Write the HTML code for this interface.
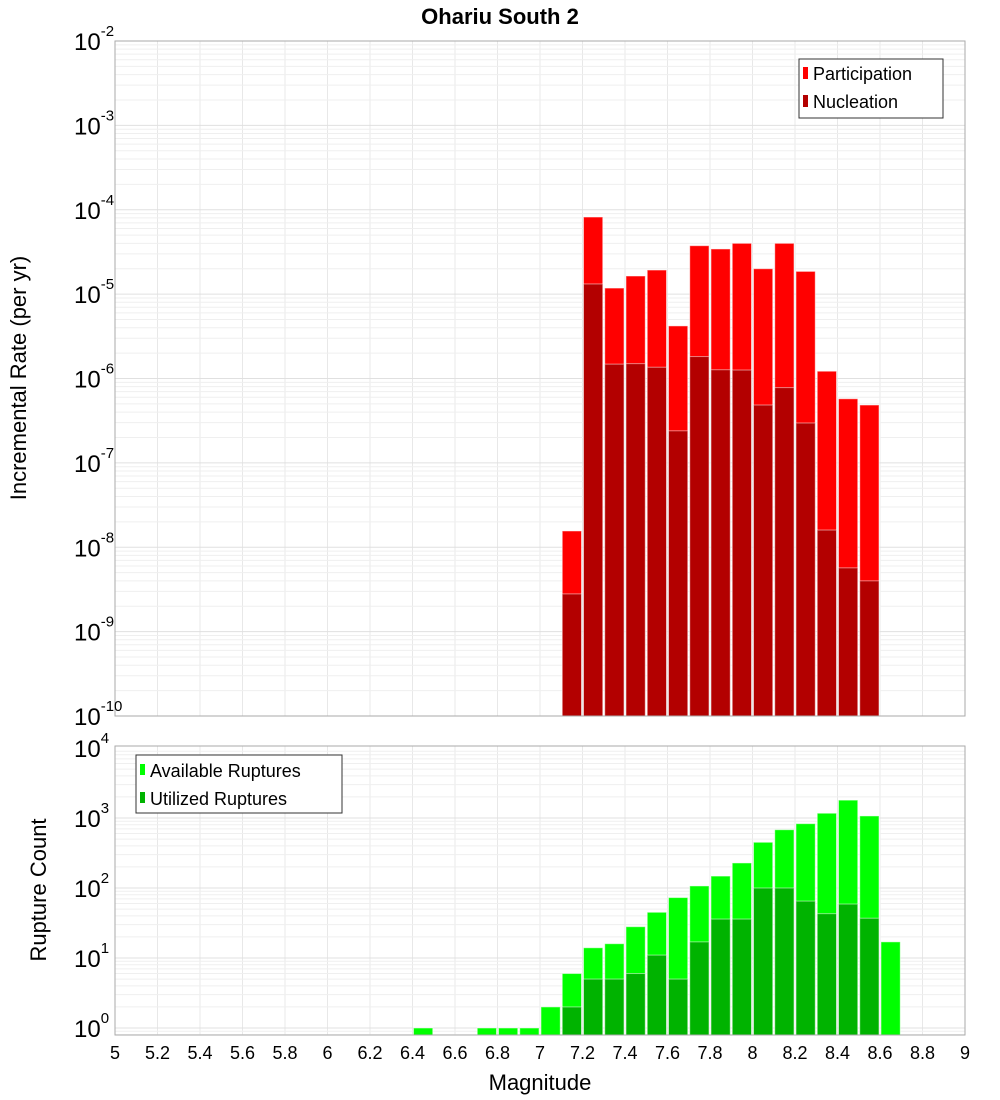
<!DOCTYPE html>
<html><head><meta charset="utf-8"><style>
body{margin:0;background:#fff;}
svg{display:block;font-family:"Liberation Sans","DejaVu Sans",sans-serif;}
</style></head><body>
<svg id="chart" width="1000" height="1100" viewBox="0 0 1000 1100">
<rect width="1000" height="1100" fill="#fff"/>
<text x="500" y="24" text-anchor="middle" font-size="22" font-weight="bold">Ohariu South 2</text>
<g id="grid"></g>
<g id="bars"></g>
<rect x="115" y="41" width="850" height="675" fill="none" stroke="#aaa"/>
<rect x="115" y="746" width="850" height="289" fill="none" stroke="#aaa"/>
<g id="ticks"></g>
<text transform="translate(26,378) rotate(-90)" text-anchor="middle" font-size="22">Incremental Rate (per yr)</text>
<text transform="translate(46,890) rotate(-90)" text-anchor="middle" font-size="22">Rupture Count</text>
<text x="540" y="1090" text-anchor="middle" font-size="22">Magnitude</text>
<g>
<rect x="799" y="59" width="144" height="59" fill="#fff" stroke="#333"/>
<rect x="803" y="67" width="5" height="12" fill="#ff0000"/>
<text x="813" y="80" font-size="18">Participation</text>
<rect x="803" y="95" width="5" height="12" fill="#b30000"/>
<text x="813" y="108" font-size="18">Nucleation</text>
</g>
<g>
<rect x="136" y="755" width="206" height="58" fill="#fff" stroke="#333"/>
<rect x="140" y="764" width="5" height="11" fill="#00ff00"/>
<text x="150" y="777" font-size="18">Available Ruptures</text>
<rect x="140" y="792" width="5" height="11" fill="#00b300"/>
<text x="150" y="805" font-size="18">Utilized Ruptures</text>
</g>
</svg>
<script>
const mags = [6.45,6.75,6.85,6.95,7.05,7.15,7.25,7.35,7.45,7.55,7.65,7.75,7.85,7.95,8.05,8.15,8.25,8.35,8.45,8.55,8.65];
const participation = [0,0,0,0,0,1.56e-8,8.2e-5,1.18e-5,1.64e-5,1.93e-5,4.2e-6,3.75e-5,3.43e-5,4.0e-5,2.0e-5,4.0e-5,1.86e-5,1.22e-6,5.75e-7,4.85e-7,0];
const nucleation = [0,0,0,0,0,2.8e-9,1.32e-5,1.48e-6,1.5e-6,1.36e-6,2.4e-7,1.82e-6,1.27e-6,1.26e-6,4.85e-7,7.8e-7,2.97e-7,1.6e-8,5.7e-9,4.0e-9,0];
const available = [1,1,1,1,2,6,14,16,28,45,73,107,148,228,450,680,830,1170,1800,1070,17];
const utilized = [0,0,0,0,0,2,5,5,6,11,5,17,36,36,100,100,65,43,59,37,0];
const xTicks = ["5","5.2","5.4","5.6","5.8","6","6.2","6.4","6.6","6.8","7","7.2","7.4","7.6","7.8","8","8.2","8.4","8.6","8.8","9"];
const topExps = [-2,-3,-4,-5,-6,-7,-8,-9,-10];
const botExps = [4,3,2,1,0];

const NS="http://www.w3.org/2000/svg";
const X0=115,X1=965;
function xs(m){return X0+(m-5)/4*(X1-X0);}
function yTop(v){return 41+(-2-Math.log10(v))*84.375;}
function yBot(v){return 1028-70*Math.log10(v);}
function mk(tag,attrs,parent){const e=document.createElementNS(NS,tag);for(const k in attrs)e.setAttribute(k,attrs[k]);parent.appendChild(e);return e;}
const grid=document.getElementById('grid'),bars=document.getElementById('bars'),ticks=document.getElementById('ticks');

// grid
for(let i=0;i<xTicks.length;i++){const x=xs(parseFloat(xTicks[i]));
 mk('line',{x1:x,x2:x,y1:41,y2:716,stroke:'#e8e8e8'},grid);
 mk('line',{x1:x,x2:x,y1:746,y2:1035,stroke:'#e8e8e8'},grid);}
for(let e=-10;e<-2;e++)for(let k=1;k<10;k++){const y=yTop(k*Math.pow(10,e));
 mk('line',{x1:X0,x2:X1,y1:y,y2:y,stroke:k==1?'#e0e0e0':'#efefef'},grid);}
for(let e=-1;e<4;e++)for(let k=1;k<10;k++){const y=yBot(k*Math.pow(10,e));if(y<746||y>1035)continue;
 mk('line',{x1:X0,x2:X1,y1:y,y2:y,stroke:k==1?'#e0e0e0':'#efefef'},grid);}

function bar(m,v,yf,base,fill,name){if(!v)return;const x=xs(m-0.05)+1,w=xs(m+0.05)-xs(m-0.05)-2;const y=yf(v);
 const r=mk('rect',{x:x,y:y,width:w,height:base-y,fill:fill,stroke:'#fff','stroke-opacity':'0.5','stroke-width':'1'},bars);
 
 }
for(let i=0;i<mags.length;i++){
 bar(mags[i],participation[i],yTop,716,'#ff0000','participation-bar');
 bar(mags[i],nucleation[i],yTop,716,'#b30000','nucleation-bar');
 bar(mags[i],available[i],yBot,1035,'#00ff00','available-ruptures-bar');
 bar(mags[i],utilized[i],yBot,1035,'#00b300','utilized-ruptures-bar');}

// ticks
for(const t of xTicks){const tx=mk('text',{x:xs(parseFloat(t)),y:1059,'text-anchor':'middle','font-size':'18'},ticks);tx.textContent=t;
 
 }
function ylab(y,e,name){const g=mk('text',{x:74,y:y+9,'font-size':'24'},ticks);
 
 
 g.textContent='10';const s=mk('tspan',{dy:'-14','font-size':'15'},g);s.textContent=String(e);}
for(const e of topExps)ylab(yTop(Math.pow(10,e)),e,'top-y-tick-label');
for(const e of botExps)ylab(yBot(Math.pow(10,e)),e,'bottom-y-tick-label');
</script>
</body></html>
